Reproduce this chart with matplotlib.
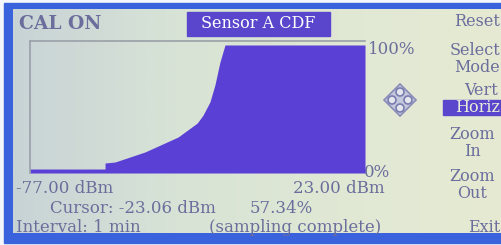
import numpy as np
import matplotlib
matplotlib.use("Agg")
import matplotlib.pyplot as plt
from matplotlib.patches import Rectangle, Circle, Polygon
from matplotlib.colors import LinearSegmentedColormap

# ---- data (CDF) ----
power_dbm = [-77.0, -54.6, -54.6, -51.6, -42.7, -32.8, -27.1, -25.4, -23.3, -21.8, -20.3, -18.8, 23.0]
cdf_pct   = [3.1,   3.1,   7.8,   8.6,   16.4,  28.1,  39.0,  45.0,  55.5,  68.8,  86.7,  100.0, 100.0]
x_min, x_max = -77.0, 23.0
title = "Sensor A CDF"
cursor_text = "Cursor: -23.06 dBm"
cursor_pct = "57.34%"
menu = ["Reset", "Select\nMode", "Vert", "Horiz", "Zoom\nIn", "Zoom\nOut", "Exit"]

W, H = 501, 245
fig = plt.figure(figsize=(W / 100, H / 100), dpi=100)

def fx(x):
    return x / W
def fy(y):
    return 1 - y / H

TXT = "#6b6e9c"
FILL = "#5a40d4"
FONT = "DejaVu Serif"

# background: white, blue frame, LCD panel gradient
bg = fig.add_axes([0, 0, 1, 1])
bg.set_xlim(0, W)
bg.set_ylim(H, 0)
bg.axis("off")
bg.add_patch(Rectangle((0, 0), W, H, color="#f4f6fb"))
bg.add_patch(Rectangle((4, 3), W, 240, color="#3a62dc"))
grad = np.linspace(0, 1, 256)[None, :]
cm = LinearSegmentedColormap.from_list("lcd", ["#c8d3d6", "#d8e3d6", "#e0e8d4", "#e6ead2"])
bg.imshow(grad, extent=(13, W, 233, 10), cmap=cm, aspect="auto", zorder=1)

# title box
bg.add_patch(Rectangle((187, 12), 143, 24, color="#5a46cc", zorder=2))
bg.text(258, 24, title, color="white", fontsize=11.5, family=FONT,
        ha="center", va="center", zorder=3)
bg.text(19, 24, "CAL ON", color=TXT, fontsize=13.5, family=FONT, weight="bold",
        ha="left", va="center", zorder=3)

# right-side menu
def mtxt(x, y, s, ha="right", color=TXT):
    bg.text(x, y, s, color=color, fontsize=11.5, family=FONT, ha=ha, va="center",
            multialignment=ha, linespacing=0.95, zorder=3)

mtxt(500, 22, menu[0])
mtxt(500, 59, menu[1])
mtxt(498, 90, menu[2])
bg.add_patch(Rectangle((443, 100), 60, 15, color="#5a46cc", zorder=2))
mtxt(500, 107, menu[3], color="#e8ecd8")
mtxt(472, 143, menu[4], ha="center")
mtxt(472, 185, menu[5], ha="center")
mtxt(500, 227, menu[6])

# diamond navigation icon
cx, cy = 400, 100
bg.add_patch(Polygon([(cx, cy - 16), (cx + 16, cy), (cx, cy + 16), (cx - 16, cy)],
                     closed=True, fc="#c4c8dc", ec="#8a8cb8", lw=1.2, zorder=2))
for dx, dy in [(0, -8), (8, 0), (0, 8), (-8, 0)]:
    bg.add_patch(Circle((cx + dx, cy + dy), 4, fc="#e4e6ee", ec="#7a7cb0", lw=1.2, zorder=3))

# axis labels
def t(x, y, s, ha="left", size=12):
    bg.text(x, y, s, color=TXT, fontsize=size, family=FONT,
            ha=ha, va="center", zorder=3)

t(368, 49, "100%")
t(364, 172, "0%")
t(16, 188, "-77.00 dBm")
t(385, 188, "23.00 dBm", ha="right")
t(50, 208, cursor_text)
t(250, 208, cursor_pct)
t(16, 227, "Interval: 1 min")
t(381, 227, "(sampling complete)", ha="right")

# plot area
y_top_px, y_bot_px = 41, 173
ax = fig.add_axes([fx(30), fy(y_bot_px), (365 - 30) / W, (y_bot_px - y_top_px) / H])
ax.patch.set_alpha(0)
ax.set_xlim(x_min, x_max)
ymax = 100 * (y_bot_px - y_top_px) / (y_bot_px - 45)
ax.set_ylim(0, ymax)
ax.fill_between(power_dbm, 0, cdf_pct, color=FILL, lw=0, zorder=2)
for s in ["right", "bottom"]:
    ax.spines[s].set_visible(False)
for s in ["top", "left"]:
    ax.spines[s].set_linestyle((0, (1, 1)))
    ax.spines[s].set_color("#9aa0a8")
    ax.spines[s].set_linewidth(1.2)
ax.set_xticks([])
ax.set_yticks([])

fig.savefig("out.png", dpi=100)
